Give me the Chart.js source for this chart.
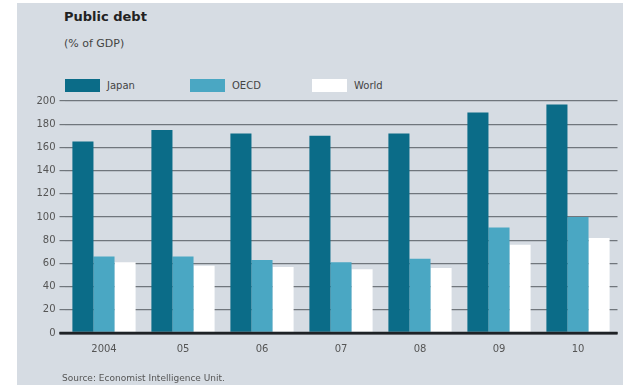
<!DOCTYPE html>
<html>
<head>
<meta charset="utf-8">
<script src="https://cdn.jsdelivr.net/npm/chart.js@4"></script>
<style>
  body { margin: 0; background: #fff; font-family: "DejaVu Sans", sans-serif; }
  #wrap { position: relative; width: 625px; height: 385px; overflow: hidden; }
  #panel { position: absolute; left: 17px; top: 3px; width: 606px; height: 382px; background: #d6dce3; }
  #wrap canvas { position: absolute; left: 0; top: 0; }
  .txt { position: absolute; white-space: nowrap; color: #333; }
  .title { left: 64px; top: 9px; font-size: 13px; font-weight: bold; color: #222; }
  .sub { left: 64px; top: 37px; font-size: 11px; color: #444; }
  .src { left: 62px; top: 373px; font-size: 9px; color: #555; }
  .leg { position: absolute; top: 79px; font-size: 10px; color: #444; display: flex; align-items: center; }
  .leg span.sw { display: inline-block; width: 35px; height: 13px; margin-right: 7px; }
</style>
</head>
<body>
<div id="wrap">
  <div id="panel"></div>
  <div class="txt title">Public debt</div>
  <div class="txt sub">(% of GDP)</div>
  <div class="leg" style="left:65px"><span class="sw" style="background:#0b6c88"></span>Japan</div>
  <div class="leg" style="left:190px"><span class="sw" style="background:#4aa7c3"></span>OECD</div>
  <div class="leg" style="left:312px"><span class="sw" style="background:#ffffff"></span>World</div>
  <canvas id="c" width="625" height="385"></canvas>
  <div class="txt src">Source: Economist Intelligence Unit.</div>
</div>
<script>
const years = ['2004', '05', '06', '07', '08', '09', '10'];
const japan = [165, 175, 172, 170, 172, 190, 197];
const oecd = [66, 66, 63, 61, 64, 91, 100];
const world = [61, 58, 57, 55, 56, 76, 82];

new Chart(document.getElementById('c'), {
  type: 'bar',
  data: {
    labels: years,
    datasets: [
      { label: 'Japan', data: japan, backgroundColor: '#0b6c88' },
      { label: 'OECD', data: oecd, backgroundColor: '#4aa7c3' },
      { label: 'World', data: world, backgroundColor: '#ffffff' }
    ]
  },
  options: {
    responsive: false,
    animation: false,
    layout: { padding: { top: 101, bottom: 30, left: 0, right: 7.5 } },
    datasets: { bar: { barPercentage: 1, categoryPercentage: 0.8 } },
    plugins: { legend: { display: false }, tooltip: { enabled: false } },
    scales: {
      x: {
        grid: { display: false },
        border: { display: false },
        ticks: { color: '#555', font: { size: 10, family: 'DejaVu Sans' }, padding: 2 },
        afterFit: (s) => { s.height = 22; }
      },
      y: {
        min: 0, max: 200,
        ticks: { stepSize: 20, color: '#555', font: { size: 10, family: 'DejaVu Sans' }, padding: 4 },
        grid: {
          color: (c) => c.tick.value === 0 ? '#1e2226' : '#70767c',
          lineWidth: (c) => c.tick.value === 0 ? 2.5 : 1.2,
          tickLength: 5,
          z: -1
        },
        border: { display: false },
        afterFit: (s) => { s.width = 64.5; }
      }
    }
  },
  plugins: [{
    id: 'zeroOnTop',
    afterDatasetsDraw(chart) {
      const { ctx, chartArea, scales } = chart;
      const y = scales.y.getPixelForValue(0);
      ctx.save();
      ctx.strokeStyle = '#1e2226';
      ctx.lineWidth = 2.5;
      ctx.beginPath();
      ctx.moveTo(chartArea.left - 5, y);
      ctx.lineTo(chartArea.right, y);
      ctx.stroke();
      ctx.restore();
    }
  }]
});
</script>
</body>
</html>
